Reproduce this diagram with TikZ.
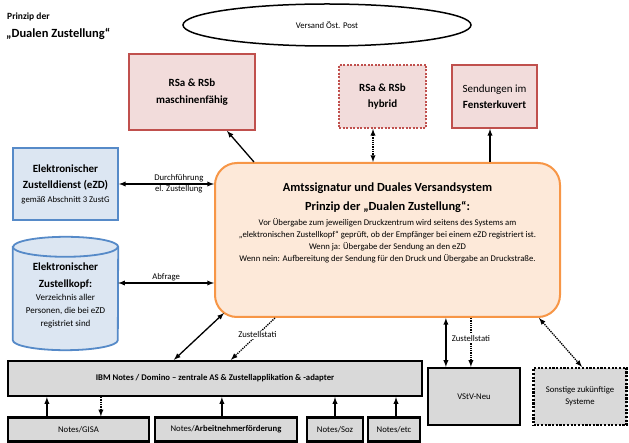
\documentclass[tikz,border=0pt]{standalone}
\usepackage{fontspec}
\setmainfont{Carlito}
\usetikzlibrary{shapes.geometric, positioning, calc}

\definecolor{boxred}{RGB}{192,80,77}
\definecolor{boxpink}{RGB}{242,220,219}
\definecolor{boxblue}{RGB}{86,138,200}
\definecolor{lightblue}{RGB}{220,230,242}
\definecolor{orangeline}{RGB}{247,150,70}
\definecolor{orangefill}{RGB}{253,233,217}
\definecolor{boxgray}{RGB}{217,217,217}

\newcommand{\ftsmall}{\fontsize{8.7}{12}\selectfont}
\newcommand{\ftbox}{\fontsize{11}{16.5}\selectfont}
\newcommand{\fthead}{\fontsize{12.4}{19}\selectfont\bfseries}

\tikzset{
    redbox/.style={draw=boxred, fill=boxpink, line width=1.8pt, align=center, font=\ftbox, inner sep=0pt},
    bluebox/.style={draw=boxblue, fill=lightblue, line width=1.8pt},
    graybox/.style={draw, fill=boxgray, line width=2.2pt, align=center, font=\ftsmall, inner sep=0pt},
    conn/.style={line width=1.3pt},
    dotconn/.style={line width=1.3pt, dash pattern=on 1.3pt off 1pt},
    lbl/.style={font=\ftsmall, inner sep=1pt}
}

\begin{document}
\begin{tikzpicture}[x=1pt, y=-1pt, >=latex]
        \useasboundingbox (0,0) rectangle (629,443);
        % title
        \node[anchor=west, inner sep=0pt, font=\fontsize{9.5}{11}\selectfont\bfseries] (title1) at (7,17) {Prinzip der};
        \node[anchor=west, inner sep=0pt, font=\fontsize{12.5}{14}\selectfont\bfseries] (title2) at (6,34) {„Dualen Zustellung“};

        % top row
        \node[ellipse, draw, line width=1.5pt, minimum width=288pt, minimum height=42pt, font=\ftsmall] (post) at (327,25) {Versand Öst. Post};
        \node[redbox, minimum width=126pt, minimum height=76pt] (rsm) at (192,92) {\textbf{RSa \& RSb}\\\textbf{maschinenfähig}};
        \node[redbox, dash pattern=on 2pt off 1.5pt, minimum width=87pt, minimum height=63pt] (rsh) at (382.5,96.5) {\textbf{RSa \& RSb}\\\textbf{hybrid}};
        \node[redbox, minimum width=85pt, minimum height=63pt] (fen) at (494.5,96.5) {Sendungen im\\\textbf{Fensterkuvert}};

        % left side
        \node[bluebox, minimum width=105pt, minimum height=72pt, align=center, inner sep=0pt, font=\ftbox] (ezd) at (65.5,184)
            {\textbf{Elektronischer}\\\textbf{Zustelldienst (eZD)}\\[-3pt]\ftsmall gemäß Abschnitt 3 ZustG};
        \node[minimum width=105pt, minimum height=113pt, inner sep=0pt] (ezk) at (65.5,293.5) {};
        \filldraw[bluebox] ([yshift=-10pt]ezk.north west) -- ([yshift=10pt]ezk.south west)
            arc[start angle=180, end angle=360, x radius=52.5pt, y radius=10pt] -- ([yshift=-10pt]ezk.north east)
            arc[start angle=0, end angle=180, x radius=52.5pt, y radius=10pt] -- cycle;
        \draw[bluebox, fill=none] ([yshift=-10pt]ezk.north west) arc[start angle=180, end angle=360, x radius=52.5pt, y radius=10pt];
        \node[align=center, inner sep=0pt, font=\fontsize{9}{13}\selectfont] (ezktxt) at ([yshift=-1.5pt]ezk.center)
            {\ftbox\textbf{Elektronischer}\\[4pt]\ftbox\textbf{Zustellkopf:}\\Verzeichnis aller\\Personen, die bei eZD\\registriet sind};

        % centre
        \node[draw=orangeline, fill=orangefill, line width=2pt, rounded corners=22pt, minimum width=345pt, minimum height=154pt] (ctr) at (387.5,240) {};
        \node[anchor=north, align=center, inner sep=0pt, font=\ftsmall] (ctrtxt) at ([yshift=-21pt]ctr.north)
            {\fthead Amtssignatur und Duales Versandsystem\\[7pt]
             \fthead Prinzip der „Dualen Zustellung“:\\[3pt]
             \ftsmall Vor Übergabe zum jeweiligen Druckzentrum wird seitens des Systems am\\
             \ftsmall „elektronischen Zustellkopf“ geprüft, ob der Empfänger bei einem eZD registriert ist.\\
             \ftsmall Wenn ja: Übergabe der Sendung an den eZD\\
             \ftsmall Wenn nein: Aufbereitung der Sendung für den Druck und Übergabe an Druckstraße.};

        % bottom
        \node[graybox, minimum width=414pt, minimum height=35pt] (ibm) at (215,378.5) {\textbf{IBM Notes / Domino – zentrale AS \& Zustellapplikation \& -adapter}};
        \node[graybox, minimum width=92pt, minimum height=57pt] (vstv) at (474,396.5) {VStV-Neu};
        \node[graybox, dash pattern=on 2.2pt off 1.5pt, minimum width=93pt, minimum height=57pt] (sonst) at (580,396.5) {Sonstige zukünftige\\Systeme};
        \node[graybox, minimum width=141pt, minimum height=24pt] (gisa) at (78.5,429.5) {Notes/GISA};
        \node[graybox, minimum width=142pt, minimum height=24pt] (arb) at (226,429.5) {Notes/\textbf{Arbeitnehmerförderung}};
        \node[graybox, minimum width=56pt, minimum height=24pt] (soz) at (335,429.5) {Notes/Soz};
        \node[graybox, minimum width=52pt, minimum height=24pt] (etc) at (394,429.5) {Notes/etc};

        % connectors
        \draw[conn, <->] (ezd.east) -- (ezd.east -| ctr.west)
            node[lbl, pos=0.63, above] {Durchführung} node[lbl, pos=0.63, below] {el. Zustellung};
        \coordinate (ask) at ([yshift=10.5pt]ezk.east);
        \draw[conn, <->] (ask) -- (ask -| ctr.west) node[lbl, midway, above] {Abfrage};
        \draw[conn, ->] ([xshift=40pt]ctr.north west) -- ([xshift=35pt]rsm.south);
        \coordinate (hyb) at ([xshift=-9.5pt]rsh.south);
        \draw[dotconn, <->] (hyb) -- (hyb |- ctr.north);
        \coordinate (fenin) at ([xshift=-4.5pt]fen.south);
        \draw[conn, ->] (fenin |- ctr.north) -- (fenin);
        \draw[conn, <->] ([xshift=167pt]ibm.north west) -- ([xshift=10pt, yshift=5pt]ctr.south west);
        \draw[dotconn, ->] ([xshift=61pt]ctr.south west) -- node[lbl, fill=white, pos=0.4] {Zustellstati} ([xshift=224pt]ibm.north west);
        \coordinate (vsa) at ([xshift=19pt]vstv.north west);
        \draw[conn, <->] (vsa |- ctr.south) -- (vsa);
        \coordinate (vsb) at ([xshift=44pt]vstv.north west);
        \draw[dotconn, ->] (vsb |- ctr.south) -- node[lbl, fill=white, pos=0.42] {Zustellstati} (vsb);
        \draw[dotconn, <->] ([xshift=-22pt]ctr.south east) -- ([xshift=2pt]sonst.north);
        \coordinate (ga) at ([xshift=40pt]gisa.north west);
        \draw[conn, ->] (ga) -- (ga |- ibm.south);
        \coordinate (gb) at ([xshift=94pt]gisa.north west);
        \draw[dotconn, ->] (gb |- ibm.south) -- (gb);
        \coordinate (ga2) at ([xshift=68pt]arb.north west);
        \draw[conn, ->] (ga2) -- (ga2 |- ibm.south);
        \draw[conn, ->] (soz.north) -- (soz.north |- ibm.south);
        \coordinate (ge) at ([xshift=2pt]etc.north);
        \draw[conn, ->] (ge) -- (ge |- ibm.south);
\end{tikzpicture}
\end{document}
